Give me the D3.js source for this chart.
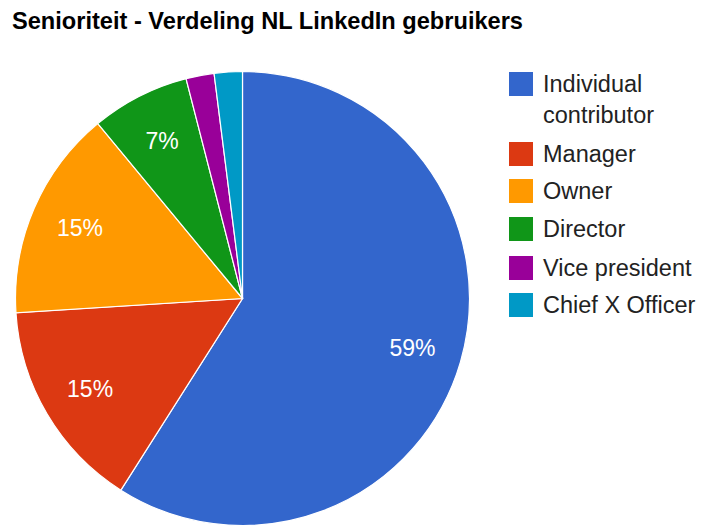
<!DOCTYPE html>
<html><head><meta charset="utf-8">
<script src="https://cdn.jsdelivr.net/npm/d3@7"></script>
<style>body{margin:0;background:#fff}svg{display:block}</style>
</head><body>
<script>
const categories = ["Individual contributor","Manager","Owner","Director","Vice president","Chief X Officer"];
const values = [59,15,15,7,2,2];
const colors = ["#3366cc","#dc3912","#ff9900","#109618","#990099","#0099c6"];
const legendLines = [["Individual","contributor"],["Manager"],["Owner"],["Director"],["Vice president"],["Chief X Officer"]];

const W=702,H=529, cx=242.5, cy=298.5, R=227;
const font = "Arial, 'Liberation Sans', sans-serif";
const svg = d3.select("body").append("svg").attr("width",W).attr("height",H);

svg.append("text").attr("x",12).attr("y",29).attr("font-family",font).attr("font-weight","bold")
  .attr("font-size",24).attr("fill","#000").attr("textLength",511).attr("lengthAdjust","spacingAndGlyphs")
  .text("Senioriteit - Verdeling NL LinkedIn gebruikers");

const data = categories.map((c,i)=>({c,v:values[i],col:colors[i]}));
const pie = d3.pie().value(d=>d.v).sort(null);
const arc = d3.arc().innerRadius(0).outerRadius(R);
const arcs = pie(data);
const g = svg.append("g").attr("transform",`translate(${cx},${cy})`);
g.selectAll("path").data(arcs).join("path").attr("d",arc).attr("fill",d=>d.data.col)
  .attr("stroke","#fff").attr("stroke-width",1.2);
const totalV = d3.sum(values);
const lab = d3.arc().innerRadius(R*0.78).outerRadius(R*0.78);
g.selectAll("text").data(arcs.filter(d=>d.data.v/totalV>=0.05)).join("text")
  .attr("transform",d=>`translate(${lab.centroid(d)})`)
  .attr("text-anchor","middle").attr("dy","0.36em")
  .attr("font-family",font).attr("font-size",23).attr("fill","#fff")
  .text(d=>Math.round(d.data.v/totalV*100)+"%");

const legY = [72,142,179,217,256,293];
const lg = svg.append("g");
data.forEach((d,i)=>{
  lg.append("rect").attr("x",509).attr("y",legY[i]).attr("width",24).attr("height",24).attr("fill",d.col);
  legendLines[i].forEach((t,j)=>{
    lg.append("text").attr("x",543).attr("y",legY[i]+20+j*31).attr("font-family",font)
      .attr("font-size",23.5).attr("fill","#222").text(t);
  });
});
</script>
</body></html>
